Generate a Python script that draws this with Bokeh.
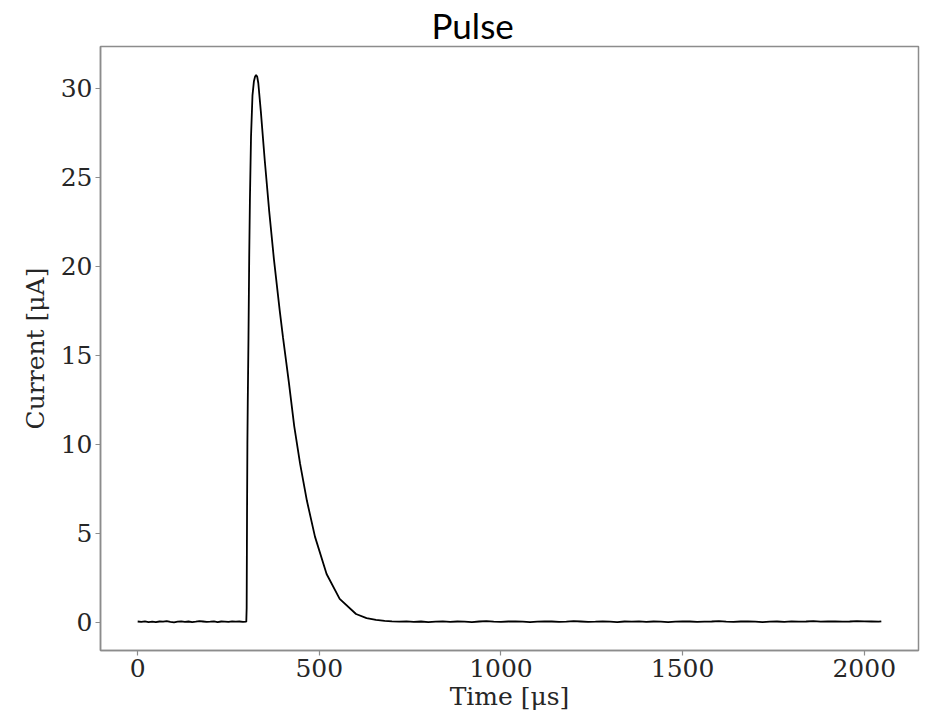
from bokeh.plotting import figure
from bokeh.models import Range1d, FixedTicker, Title
from bokeh.embed import file_html
from bokeh.resources import INLINE

# ---- data ----
time_us = [0, 10, 20, 30, 40, 50, 60, 70, 80, 90, 100, 110, 120, 130, 140, 150,
           160, 170, 180, 190, 200, 210, 220, 230, 240, 250, 260, 270, 280, 290, 299,
           300, 301, 302, 303, 305, 307, 309, 312, 316, 320, 323, 326, 329, 332, 339,
           350, 362, 375, 391, 400, 409, 416, 431, 447, 466, 488, 520, 556, 601, 630,
           656, 680, 700,
           720, 740, 760, 780, 800, 820, 840, 860, 880, 900, 920, 940, 960, 980, 1000,
           1020, 1040, 1060, 1080, 1100, 1120, 1140, 1160, 1180, 1200, 1220, 1240, 1260,
           1280, 1300, 1320, 1340, 1360, 1380, 1400, 1420, 1440, 1460, 1480, 1500, 1520,
           1540, 1560, 1580, 1600, 1620, 1640, 1660, 1680, 1700, 1720, 1740, 1760, 1780,
           1800, 1820, 1840, 1860, 1880, 1900, 1920, 1940, 1960, 1980, 2000, 2020, 2040, 2047]

current_uA = [0.03, 0.01, 0.04, 0.00, 0.02, -0.01, 0.03, 0.02, 0.05, 0.01, -0.02, 0.02,
              0.04, 0.01, 0.03, 0.00, 0.02, 0.05, 0.03, 0.01, 0.02, 0.04, 0.00, 0.03, 0.02,
              0.01, 0.04, 0.02, 0.03, 0.01, 0.02,
              0.8, 6.0, 10.0, 12.3, 16.0, 20.5, 23.8, 27.3, 29.6, 30.4, 30.65, 30.75, 30.65,
              30.3, 28.7, 25.9, 23.1, 20.4, 17.5, 16.0, 14.6, 13.5, 11.0, 8.9, 6.8, 4.8, 2.7,
              1.3, 0.45, 0.22, 0.12, 0.07, 0.04,
              0.02, 0.04, 0.01, 0.03, 0.00, 0.02, 0.04, 0.01, 0.03, 0.02, 0.00, 0.03, 0.05,
              0.02, 0.01, 0.03, 0.04, 0.02, 0.00, 0.02, 0.04, 0.03, 0.01, 0.02, 0.05, 0.03,
              0.01, 0.02, 0.04, 0.02, 0.00, 0.03, 0.02, 0.04, 0.01, 0.03, 0.02, 0.00, 0.02,
              0.04, 0.03, 0.01, 0.02, 0.03, 0.05, 0.02, 0.01, 0.03, 0.04, 0.02, 0.00, 0.02,
              0.03, 0.01, 0.04, 0.02, 0.03, 0.05, 0.02, 0.03, 0.04, 0.02, 0.03, 0.05, 0.04,
              0.03, 0.02, 0.04]

x_ticks = [0, 500, 1000, 1500, 2000]
y_ticks = [0, 5, 10, 15, 20, 25, 30]

title_text = "Pulse"
x_label = "Time [\u03bcs]"
y_label = "Current [\u03bcA]"

# ---- figure ----
FL, FW, FH = 100, 818, 604
p = figure(frame_width=FW, frame_height=FH,
           min_border_left=FL, min_border_right=3, min_border_top=0, min_border_bottom=59,
           x_range=Range1d(-102.35, 2149.35), y_range=Range1d(-1.6, 32.35),
           output_backend="svg", toolbar_location=None, tools="")

p.title = Title(text=title_text, align="left", offset=331, standoff=2,
                text_font="Lato", text_font_size="35px", text_font_style="normal",
                text_color="black")

p.line(time_us, current_uA, line_color="black", line_width=1.8)

p.grid.visible = False
p.outline_line_color = "#8c8c8c"
p.outline_line_width = 1.5
p.background_fill_color = "white"
p.border_fill_color = "white"

for ax, ticks, lab in ((p.xaxis[0], x_ticks, x_label), (p.yaxis[0], y_ticks, y_label)):
    ax.ticker = FixedTicker(ticks=ticks)
    ax.minor_tick_line_color = None
    ax.axis_line_color = "#8c8c8c"
    ax.axis_line_width = 1.5
    ax.major_tick_line_color = "#8c8c8c"
    ax.major_tick_line_width = 1.2
    ax.major_tick_out = 5
    ax.major_tick_in = 0
    ax.major_label_standoff = 3
    ax.major_label_text_font = "DejaVu Serif"
    ax.major_label_text_font_size = "25px"
    ax.major_label_text_color = "#262626"
    ax.axis_label = lab
    ax.axis_label_text_font = "DejaVu Serif"
    ax.axis_label_text_font_size = "25px"
    ax.axis_label_text_font_style = "normal"
    ax.axis_label_text_color = "#262626"

p.xaxis[0].axis_label_standoff = 2
p.yaxis[0].axis_label_standoff = 8

open("out.html", "w").write(file_html(p, INLINE))
